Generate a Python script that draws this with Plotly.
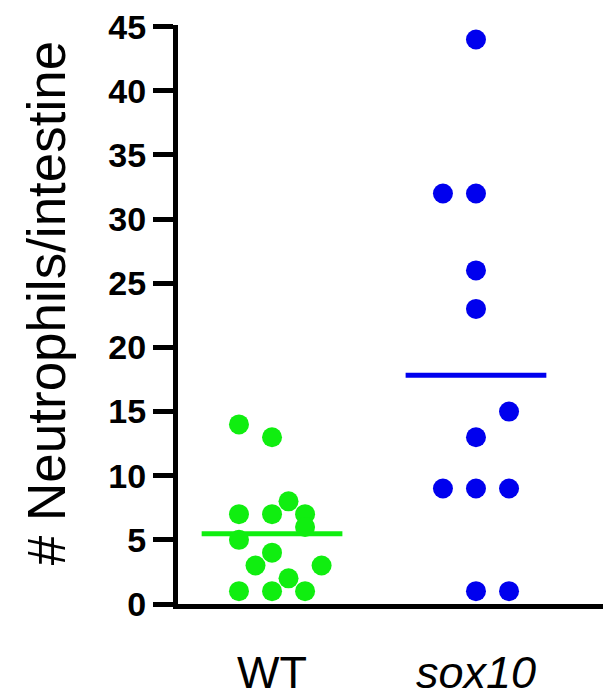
import plotly.graph_objects as go

# ---- data ----
categories = ["WT", "sox10"]
wt_values = [14, 13, 8, 7, 7, 7, 6, 5, 4, 3, 3, 2, 1, 1, 1]
wt_slots = [-2, 0, 1, -2, 0, 2, 2, -2, 0, -1, 3, 1, -2, 0, 2]
sox10_values = [44, 32, 32, 26, 23, 15, 13, 9, 9, 9, 1, 1]
sox10_slots = [0, -2, 0, 0, 0, 2, 0, -2, 0, 2, 0, 2]
y_ticks = [0, 5, 10, 15, 20, 25, 30, 35, 40, 45]

# ---- style ----
GREEN = "#10EE10"
BLUE = "#0000EE"
SLOT = 0.081      # horizontal spacing (category units) between dot columns
HALF = 0.345      # half-width of mean line
FONT = "Liberation Sans, Arial, sans-serif"

fig = go.Figure()

groups = [(0, wt_values, wt_slots, GREEN), (1, sox10_values, sox10_slots, BLUE)]
for idx, vals, slots, col in groups:
    xs = [idx + s * SLOT for s in slots]
    fig.add_trace(go.Scatter(x=xs, y=vals, mode="markers",
                             marker=dict(size=20, color=col, line=dict(width=0)),
                             showlegend=False, hoverinfo="y"))
    mean = sum(vals) / len(vals)
    fig.add_trace(go.Scatter(x=[idx - HALF, idx + HALF], y=[mean, mean], mode="lines",
                             line=dict(color=col, width=5), showlegend=False))

# category labels
for idx, cat in enumerate(categories):
    txt = cat if idx == 0 else "<i>" + cat + "</i>"
    fig.add_annotation(x=idx, xref="x", y=-0.118, yref="paper", text=txt,
                       showarrow=False, xanchor="center", yanchor="middle",
                       font=dict(family=FONT, size=45, color="black"))

# y-axis title (paper width = 433 px, left edge at screen x 178)
fig.add_annotation(x=-0.302, xref="paper", y=0.52, yref="paper",
                   text="# Neutrophils/intestine", textangle=-90, showarrow=False,
                   xanchor="center", yanchor="middle",
                   font=dict(family=FONT, size=53, color="black"))

# page body has an 8px margin, so the figure is 8px smaller and starts at (8, 8)
fig.update_layout(
    width=603, height=685,
    margin=dict(l=170, r=0, t=17, b=89, autoexpand=False),
    paper_bgcolor="white", plot_bgcolor="white",
    xaxis=dict(range=[-0.461, 1.662], showgrid=False, zeroline=False,
               showline=True, linecolor="black", linewidth=5,
               showticklabels=False, ticks="", automargin=False),
    yaxis=dict(range=[0, 45.13], showgrid=False, zeroline=False,
               showline=True, linecolor="black", linewidth=5,
               tickvals=y_ticks, ticks="outside", ticklen=20, tickwidth=5,
               tickcolor="black", automargin=False, ticklabeloverflow="allow",
               tickfont=dict(family=FONT, size=34, color="black", weight="bold")),
)

fig.write_html("out.html")
